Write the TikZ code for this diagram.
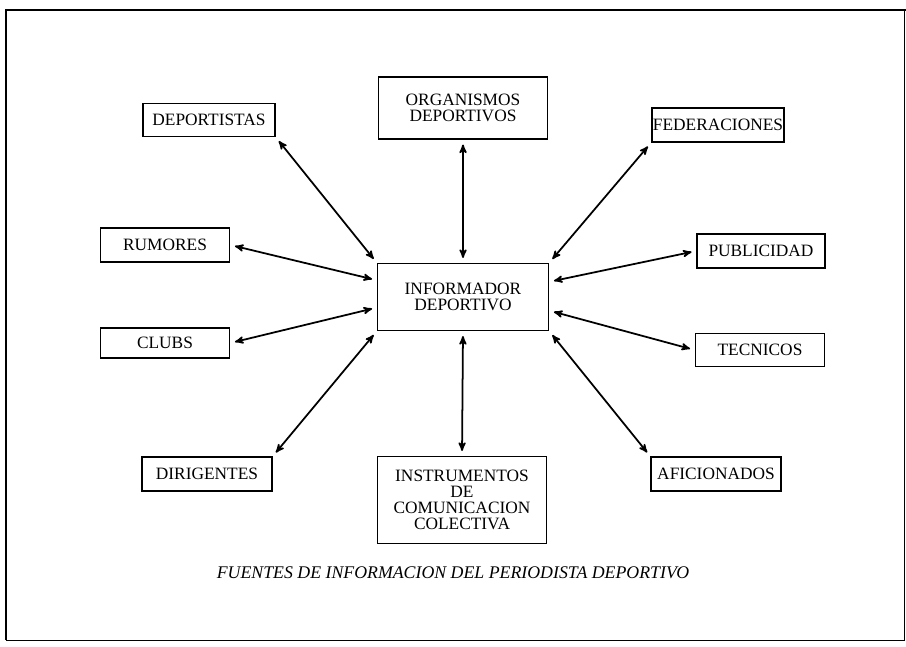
\documentclass[tikz,border=0pt]{standalone}
\usepackage{fontspec}
\setmainfont{Liberation Serif}
\usetikzlibrary{positioning, arrows}
\tikzset{
  >=stealth',
  box/.style={draw, line width=1.5pt, align=center, inner sep=1pt,
    font=\fontsize{14.8}{13.6}\selectfont},
  link/.style={<->, line width=1.5pt, shorten <=4pt, shorten >=4pt},
}

\begin{document}
\begin{tikzpicture}[x=0.03cm, y=-0.03cm]
		\useasboundingbox (0,0) rectangle (906,646);

		% frame
		\draw[line width=2.2pt] (6,640) -- (6,10) -- (906,10);
		\draw[line width=0.6pt] (6,640) -- (904,640) -- (904,10);

		% boxes
		\node[box, minimum width=5.13cm, minimum height=2.01cm] (inf) at (463,297) {INFORMADOR\\DEPORTIVO};
		\node[box, minimum width=3.96cm, minimum height=0.99cm] (dep) at (209,120) {DEPORTISTAS};
		\node[box, minimum width=5.07cm, minimum height=1.86cm] (org) at (463,108) {ORGANISMOS\\DEPORTIVOS};
		\node[box, minimum width=3.96cm, minimum height=1.02cm] (fed) at (718,125) {FEDERACIONES};
		\node[box, minimum width=3.87cm, minimum height=1.02cm] (rum) at (165,245) {RUMORES};
		\node[box, minimum width=3.84cm, minimum height=1.02cm] (pub) at (761,251) {PUBLICIDAD};
		\node[box, minimum width=3.87cm, minimum height=0.90cm] (clu) at (165,343) {CLUBS};
		\node[box, minimum width=3.87cm, minimum height=0.99cm] (tec) at (760,350) {TECNICOS};
		\node[box, minimum width=3.90cm, minimum height=1.02cm] (dir) at (207,474) {DIRIGENTES};
		\node[box, minimum width=5.07cm, minimum height=2.61cm] (ins) at (462,500) {INSTRUMENTOS\\DE\\COMUNICACION\\COLECTIVA};
		\node[box, minimum width=3.90cm, minimum height=1.02cm] (afi) at (716,474) {AFICIONADOS};

		% arrows
		\draw[link] (dep.south east) -- (inf.north west);
		\draw[link] (org.south) -- (inf.north);
		\draw[link] (fed.south west) -- (inf.north east);
		\draw[link] (rum.east) -- (inf.169);
		\draw[link] (pub.west) -- (inf.10);
		\draw[link] (clu.east) -- (inf.187);
		\draw[link] (tec.west) -- (inf.-9);
		\draw[link] (dir.north east) -- (inf.south west);
		\draw[link] (ins.north) -- (inf.south);
		\draw[link] (afi.north west) -- (inf.south east);

		% caption
		\node[font=\itshape\fontsize{15.2}{16}\selectfont] (cap) at (453,573) {FUENTES DE INFORMACION DEL PERIODISTA DEPORTIVO};

	\end{tikzpicture}
\end{document}
